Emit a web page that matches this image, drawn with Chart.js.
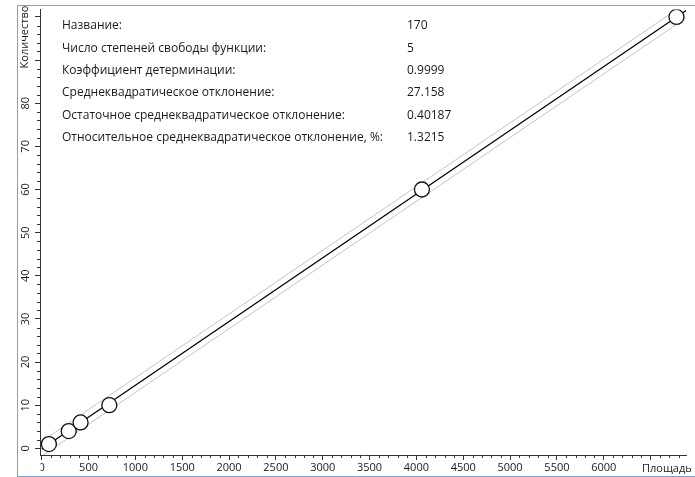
<!DOCTYPE html>
<html>
<head>
<meta charset="utf-8">
<script src="https://cdn.jsdelivr.net/npm/chart.js@4.4.1/dist/chart.umd.min.js"></script>
<style>
  html, body { margin: 0; padding: 0; background: #ffffff; }
  #wrap { position: relative; width: 695px; height: 477px; }
</style>
</head>
<body>
<div id="wrap"><canvas id="c" width="695" height="477"></canvas></div>
<script>
// ---- data ----
const pointX = [77, 289, 415, 722, 4059, 6776];
const pointY = [1, 4, 6, 10, 60, 100];

const fitX = [0, 6880];
const fitY = [-0.14, 101.5];
const upperY = [1.6, 103.2];
const lowerY = [-1.8, 99.8];

const xTickValues = [0, 500, 1000, 1500, 2000, 2500, 3000, 3500, 4000, 4500, 5000, 5500, 6000, 6500];
const xTickLabels = ['0', '500', '1000', '1500', '2000', '2500', '3000', '3500', '4000', '4500', '5000', '5500', '6000', ''];
const yTickValues = [0, 10, 20, 30, 40, 50, 60, 70, 80, 90, 100];
const yTickLabels = ['0', '10', '20', '30', '40', '50', '60', '70', '80', '', ''];

const xTitle = 'Площадь';
const yTitle = 'Количество';

const statLabels = [
  'Название:',
  'Число степеней свободы функции:',
  'Коэффициент детерминации:',
  'Среднеквадратическое отклонение:',
  'Остаточное среднеквадратическое отклонение:',
  'Относительное среднеквадратическое отклонение, %:'
];
const statValues = ['170', '5', '0.9999', '27.158', '0.40187', '1.3215'];

// ---- build ----
const toPts = (xs, ys) => xs.map((x, i) => ({ x: x, y: ys[i] }));
const FONT = '"Open Sans", "Noto Sans", sans-serif';
const TEXT = '#1a1a1a';

const decor = {
  id: 'decor',
  afterDraw(chart) {
    const ctx = chart.ctx;
    const xs = chart.scales.x, ys = chart.scales.y;
    ctx.save();
    // minor ticks
    ctx.strokeStyle = '#333';
    ctx.lineWidth = 1;
    ctx.beginPath();
    for (let v = 0; v <= 6880; v += 100) {
      if (v % 500 === 0) continue;
      const px = Math.round(xs.getPixelForValue(v)) + 0.5;
      ctx.moveTo(px, xs.top);
      ctx.lineTo(px, xs.top + 3);
    }
    for (let v = 0; v <= 101; v += 2) {
      if (v % 10 === 0) continue;
      const py = Math.round(ys.getPixelForValue(v)) + 0.5;
      ctx.moveTo(ys.right, py);
      ctx.lineTo(ys.right - 3, py);
    }
    ctx.stroke();

    // hide left half of the "0" label like the reference
    ctx.fillStyle = '#fff';
    ctx.fillRect(18, xs.top + 6, ys.right - 18 + 0.5, 476 - xs.top - 6);

    // axis titles
    ctx.fillStyle = TEXT;
    ctx.font = '11px ' + FONT;
    ctx.textBaseline = 'middle';
    ctx.textAlign = 'left';
    ctx.fillText(xTitle, 642, 469);
    ctx.save();
    ctx.translate(25, 37);
    ctx.rotate(-Math.PI / 2);
    ctx.textAlign = 'center';
    ctx.fillText(yTitle, 0, 0);
    ctx.restore();

    // statistics text block
    ctx.font = '12px ' + FONT;
    ctx.textAlign = 'left';
    ctx.textBaseline = 'middle';
    const rowY0 = 26, rowStep = 22.3;
    statLabels.forEach((t, i) => ctx.fillText(t, 62, rowY0 + i * rowStep));
    statValues.forEach((t, i) => ctx.fillText(t, 407, rowY0 + i * rowStep));

    // outer frame
    ctx.strokeStyle = '#7aa3d4';
    ctx.lineWidth = 1;
    ctx.beginPath();
    ctx.moveTo(17.5, 477);
    ctx.lineTo(17.5, 5.5);
    ctx.lineTo(695, 5.5);
    ctx.moveTo(17.5, 476.5);
    ctx.lineTo(695, 476.5);
    ctx.stroke();
    ctx.restore();
  }
};

new Chart(document.getElementById('c'), {
  type: 'scatter',
  data: {
    datasets: [
      { data: toPts(pointX, pointY), showLine: false, pointRadius: 7.5, pointHoverRadius: 7.5,
        pointBackgroundColor: '#fff', pointBorderColor: '#111', pointBorderWidth: 1.3, order: 0 },
      { data: toPts(fitX, fitY), showLine: true, borderColor: '#000', borderWidth: 1.3, pointRadius: 0, order: 1 },
      { data: toPts(fitX, upperY), showLine: true, borderColor: '#c4c4c4', borderWidth: 1, pointRadius: 0, order: 2 },
      { data: toPts(fitX, lowerY), showLine: true, borderColor: '#c4c4c4', borderWidth: 1, pointRadius: 0, order: 3 }
    ]
  },
  options: {
    responsive: false,
    animation: false,
    events: [],
    layout: { padding: { top: 5, right: 2, left: 0, bottom: 0 } },
    plugins: { legend: { display: false }, tooltip: { enabled: false } },
    scales: {
      x: {
        type: 'linear', min: -18, max: 6880,
        afterBuildTicks: s => { s.ticks = xTickValues.map(v => ({ value: v })); },
        afterFit: s => { s.height = 22; },
        ticks: {
          autoSkip: false, maxRotation: 0, minRotation: 0, padding: 1,
          color: TEXT, font: { family: FONT, size: 11 },
          callback: (v) => { const i = xTickValues.indexOf(v); return i >= 0 ? xTickLabels[i] : ''; }
        },
        grid: { drawOnChartArea: false, drawTicks: true, tickLength: 5, color: '#333' },
        border: { color: '#333', width: 1 }
      },
      y: {
        type: 'linear', min: -1.54, max: 101.7,
        afterBuildTicks: s => { s.ticks = yTickValues.map(v => ({ value: v })); },
        afterFit: s => { s.width = 40; },
        ticks: {
          autoSkip: false, minRotation: 90, maxRotation: 90, crossAlign: 'center', padding: 3,
          color: TEXT, font: { family: FONT, size: 11 },
          callback: (v) => { const i = yTickValues.indexOf(v); return i >= 0 ? yTickLabels[i] : ''; }
        },
        grid: { drawOnChartArea: false, drawTicks: true, tickLength: 5, color: '#333' },
        border: { color: '#333', width: 1 }
      }
    }
  },
  plugins: [decor]
});
</script>
</body>
</html>
